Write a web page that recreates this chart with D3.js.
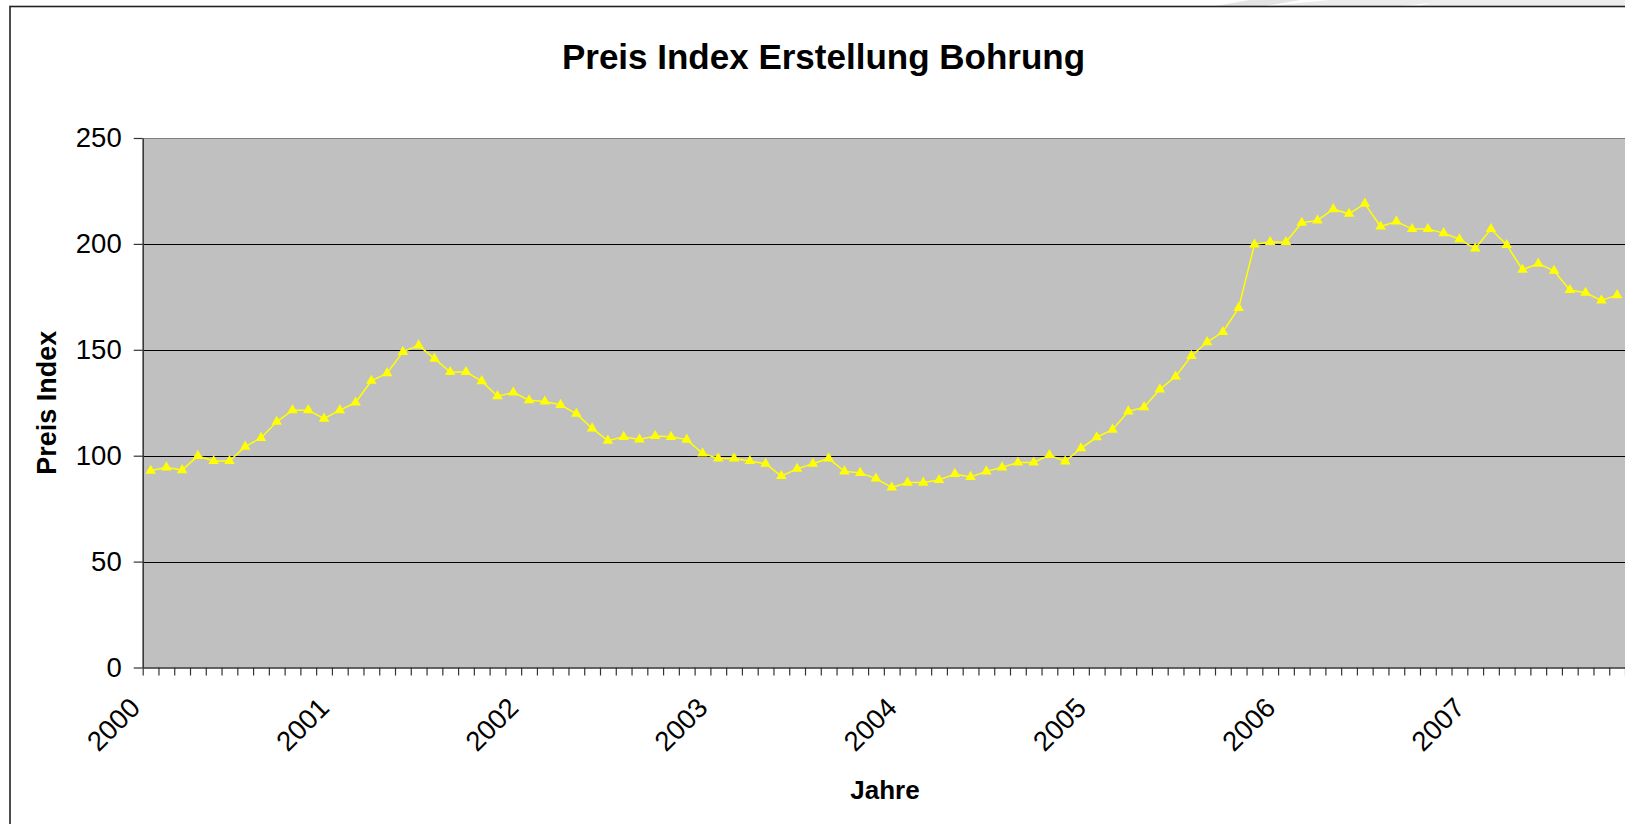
<!DOCTYPE html>
<html>
<head>
<meta charset="utf-8">
<script src="https://cdn.jsdelivr.net/npm/d3@7"></script>
<style>
  html, body { margin: 0; padding: 0; background: #fff; overflow: hidden; }
  svg { display: block; font-family: "Liberation Sans", Arial, sans-serif; }
</style>
</head>
<body>
<svg id="chart" width="1625" height="824"></svg>
<script>
// ---- data ----
const title = "Preis Index Erstellung Bohrung";
const yTitle = "Preis Index";
const xTitle = "Jahre";
const years = ["2000", "2001", "2002", "2003", "2004", "2005", "2006", "2007"];
const months = ["01", "02", "03", "04", "05", "06", "07", "08", "09", "10", "11", "12"];
const nMonths = 94;
const categories = years.flatMap(y => months.map(m => y + "-" + m)).slice(0, nMonths);
const values = [
  92.9, 94.5, 93.2, 99.9, 97.5, 97.5, 104.3, 108.4, 116.0, 121.5, 121.5, 117.5,
  121.5, 125.1, 135.4, 139.0, 149.0, 152.1, 145.8, 139.5, 139.5, 135.2, 128.1, 129.9,
  126.2, 125.6, 124.0, 119.8, 112.9, 107.1, 108.9, 107.7, 109.3, 108.9, 107.6, 101.1,
  98.7, 98.7, 97.5, 96.2, 90.4, 93.8, 96.2, 98.7, 92.6, 91.9, 89.2, 85.0,
  87.3, 87.3, 88.5, 91.4, 90.0, 92.6, 94.5, 96.8, 96.8, 100.3, 97.3, 103.5,
  108.7, 112.3, 120.9, 122.9, 131.3, 137.4, 147.1, 153.6, 158.4, 169.8, 199.7, 200.9,
  200.9, 210.0, 211.1, 216.4, 214.2, 219.0, 208.2, 210.6, 207.0, 207.0, 205.1, 202.2,
  197.8, 207.0, 199.5, 187.8, 190.7, 187.3, 178.2, 176.9, 173.3, 175.8
];
const yTicks = [0, 50, 100, 150, 200, 250];

// ---- layout ----
const svg = d3.select("#chart");
const plot = { left: 142.7, right: 1625, top: 138, bottom: 667.5 };

const x = d3.scaleBand().domain(categories).range([plot.left, plot.right]).padding(0);
const xEdge = d3.scaleLinear().domain([0, categories.length]).range([plot.left, plot.right]);
const y = d3.scaleLinear().domain([0, 250]).range([plot.bottom, plot.top]);

// faint watermark swooshes above the frame
const wm = svg.append("g").attr("fill", "#e4e4e4");
wm.append("path").attr("d", "M1215,6 L1250,0 L1300,0 L1265,6 Z");
wm.append("path").attr("d", "M1270,6 L1330,0 L1460,0 L1400,6 Z").attr("fill", "#ececec");
wm.append("path").attr("d", "M1420,6 L1440,0 L1625,0 L1625,6 Z").attr("fill", "#eeeeee");

// chart frame
svg.append("rect")
  .attr("x", 10).attr("y", 6.5)
  .attr("width", 1627).attr("height", 900)
  .attr("fill", "#fff").attr("stroke", "#222").attr("stroke-width", 1.6);

// plot area
svg.append("rect")
  .attr("x", plot.left).attr("y", plot.top)
  .attr("width", plot.right - plot.left).attr("height", plot.bottom - plot.top)
  .attr("fill", "#c0c0c0");

// gridlines
svg.append("g").selectAll("line").data(yTicks.filter(d => d > 0)).join("line")
  .attr("x1", plot.left).attr("x2", plot.right)
  .attr("y1", d => Math.round(y(d)) + 0.5).attr("y2", d => Math.round(y(d)) + 0.5)
  .attr("stroke", d => d === 250 ? "#808080" : "#000").attr("stroke-width", 1.2);

// y axis
const yAxis = svg.append("g").attr("transform", `translate(${plot.left},0)`)
  .call(d3.axisLeft(y).tickValues(yTicks).tickSize(9).tickPadding(12).tickSizeOuter(0));
yAxis.select(".domain").attr("stroke", "#333").attr("stroke-width", 1.5);
yAxis.selectAll(".tick line").attr("stroke", "#333").attr("stroke-width", 1.2);
yAxis.selectAll(".tick text").attr("font-size", 27.5).attr("fill", "#000")
  .attr("font-family", "Liberation Sans, Arial, sans-serif");

// x axis (ticks between categories)
const xAxis = svg.append("g").attr("transform", `translate(0,${plot.bottom})`)
  .call(d3.axisBottom(xEdge).tickValues(d3.range(categories.length + 1)).tickSize(8).tickFormat("").tickSizeOuter(0));
xAxis.select(".domain").attr("stroke", "#333").attr("stroke-width", 1.5);
xAxis.selectAll(".tick line").attr("stroke", "#333").attr("stroke-width", 1.2);

// year labels
svg.append("g").selectAll("text").data(years).join("text")
  .attr("transform", (d, i) => `translate(${x(d + "-01") - 1},${plot.bottom + 42}) rotate(-45)`)
  .attr("text-anchor", "end")
  .attr("font-size", 27.5)
  .attr("fill", "#000")
  .text(d => d);

// line
const line = d3.line()
  .x((d, i) => x(categories[i]) + x.bandwidth() / 2)
  .y(d => y(d));
svg.append("path").datum(values)
  .attr("d", line)
  .attr("fill", "none")
  .attr("stroke", "#ffff00")
  .attr("stroke-width", 1.5);

// markers
svg.append("g").selectAll("path").data(values).join("path")
  .attr("transform", (d, i) => `translate(${x(categories[i]) + x.bandwidth() / 2},${y(d)})`)
  .attr("d", d3.symbol().type(d3.symbolTriangle).size(48))
  .attr("fill", "#ffff00");

// titles
svg.append("text")
  .attr("x", 823.5).attr("y", 69)
  .attr("text-anchor", "middle")
  .attr("font-size", 35).attr("font-weight", "bold")
  .text(title);

svg.append("text")
  .attr("transform", `translate(56,${(plot.top + plot.bottom) / 2}) rotate(-90)`)
  .attr("text-anchor", "middle")
  .attr("font-size", 27).attr("font-weight", "bold")
  .text(yTitle);

svg.append("text")
  .attr("x", 885).attr("y", 799)
  .attr("text-anchor", "middle")
  .attr("font-size", 26).attr("font-weight", "bold")
  .text(xTitle);
</script>
</body>
</html>
